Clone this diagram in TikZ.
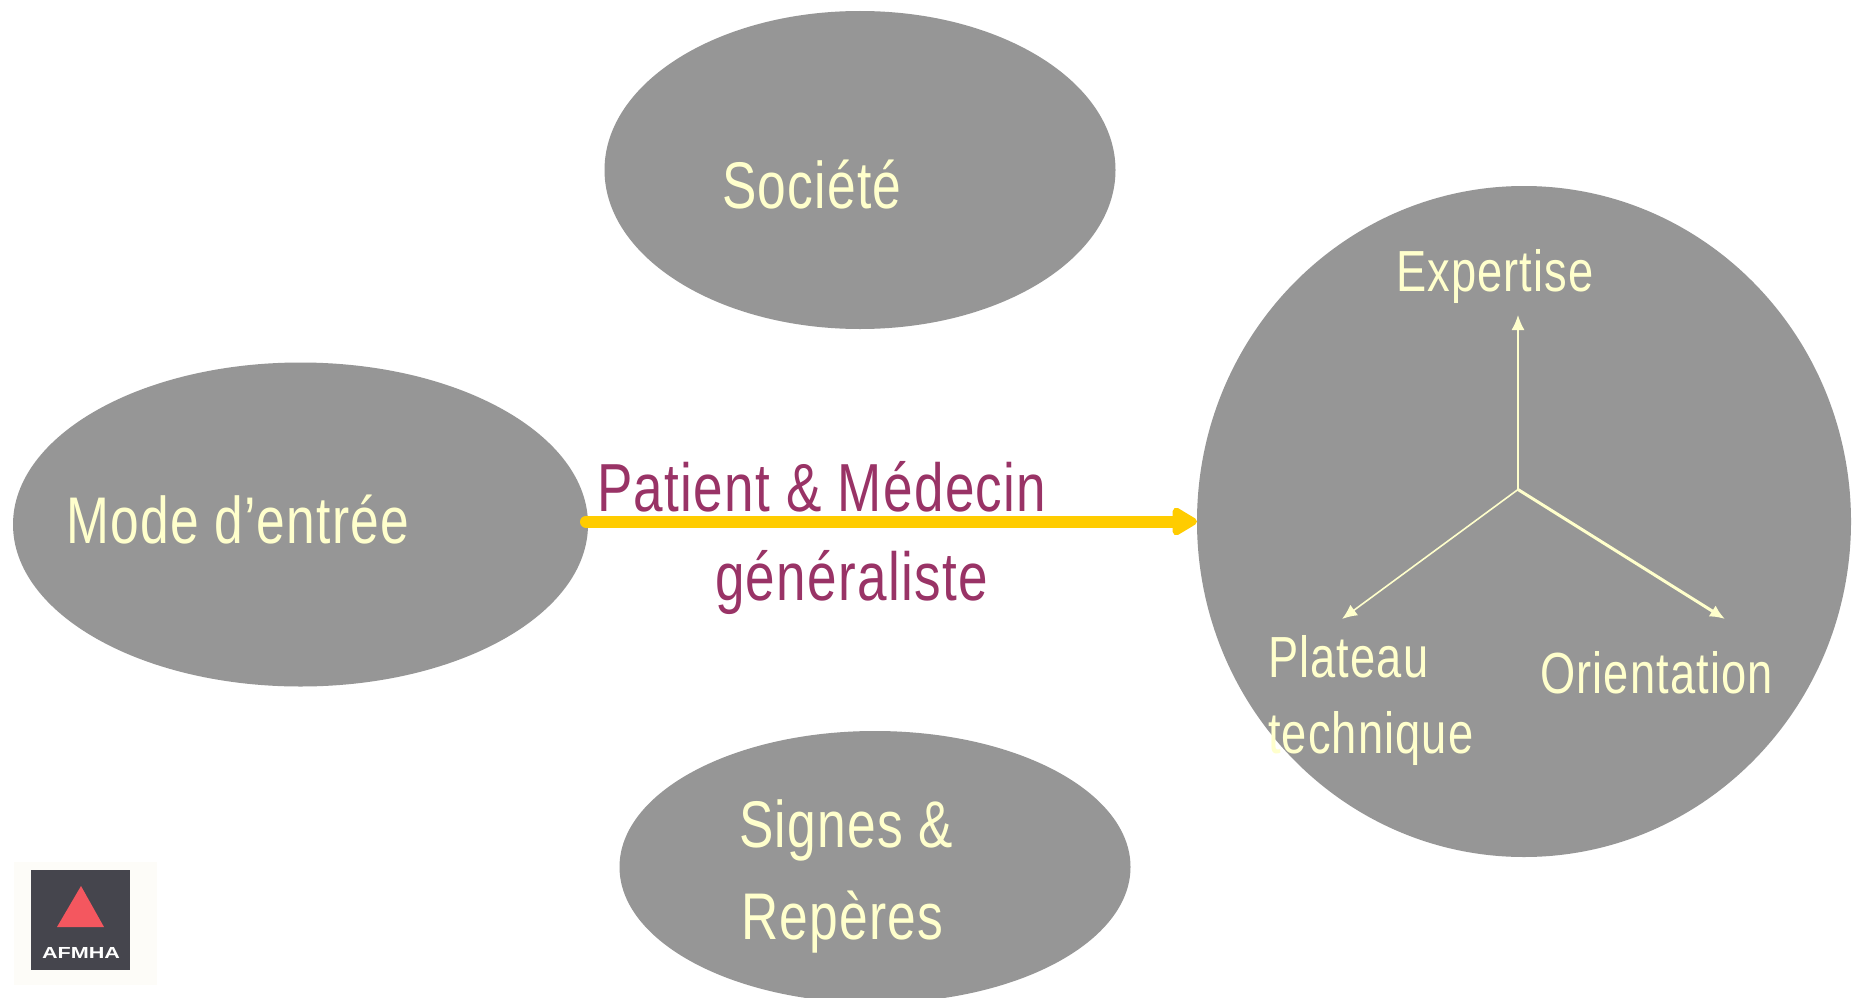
\documentclass[tikz,border=0pt]{standalone}
\usepackage{fontspec}
\setmainfont{Liberation Sans}
\newfontfamily\narrowfont[FakeStretch=0.78,LetterSpace=2]{Liberation Sans}
\newfontfamily\logofont[FakeStretch=1.35]{Liberation Sans}
\usetikzlibrary{arrows.meta}
\definecolor{blobgray}{HTML}{969696}
\definecolor{paleyellow}{HTML}{FFFFCC}
\definecolor{plum}{HTML}{993366}
\definecolor{gold}{HTML}{FFCC00}
\definecolor{logodark}{HTML}{45454D}
\definecolor{logored}{HTML}{F4575F}
\definecolor{logopaper}{HTML}{FDFCF8}
\tikzset{
  blob/.style={draw=none,fill=blobgray,ellipse,inner sep=0pt,outer sep=0pt},
  bigtext/.style={anchor=base west,inner sep=0pt,outer sep=0pt,text=paleyellow,font=\narrowfont\fontsize{66}{66}\selectfont},
  midtext/.style={anchor=base west,inner sep=0pt,outer sep=0pt,text=paleyellow,font=\narrowfont\fontsize{58}{58}\selectfont},
  plumtext/.style={anchor=base west,inner sep=0pt,outer sep=0pt,text=plum,font=\narrowfont\fontsize{68}{68}\selectfont},
  thinarrow/.style={draw=paleyellow,line width=1.6pt,-{Latex[length=15pt,width=13pt]}},
}
\usetikzlibrary{shapes.geometric}
\begin{document}
\begin{tikzpicture}[x=1pt,y=-1pt]
\useasboundingbox (0,0) rectangle (1863,998);
\clip (0,0) rectangle (1863,998);
\fill[white] (0,0) rectangle (1863,998);
% blobs
\fill[blobgray] (860,170) ellipse [x radius=255.5,y radius=159];
\fill[blobgray] (300.5,524.5) ellipse [x radius=287.5,y radius=162];
\fill[blobgray] (875,867) ellipse [x radius=255.5,y radius=136];
\fill[blobgray] (1524,521.5) ellipse [x radius=327,y radius=335.5];
% named coordinates
\coordinate (hub) at (1518,489.5);
\coordinate (tipE) at (1518,315);
\coordinate (tipP) at (1342,619);
\coordinate (tipO) at (1725,619);
\coordinate (gs) at (586,521.5);
\coordinate (ge) at (1197,521.5);
% arrows
\draw[thinarrow] (hub) -- (tipE);
\draw[thinarrow] (hub) -- (tipP);
\draw[thinarrow,line width=3pt] (hub) -- (tipO);
\draw[gold,line width=12pt,line cap=round,-{Triangle[length=28pt,width=31pt,round=false]}] (gs) -- (ge);
% texts
\node[bigtext] (societe) at (722,208) {Société};
\node[bigtext] (mode) at (66,543) {Mode d’entrée};
\node[bigtext] (signes) at (739,847) {Signes \&};
\node[bigtext] (reperes) at (741,939) {Repères};
\node[midtext] (expertise) at (1396,291) {Expertise};
\node[midtext] (plateau) at (1268,677) {Plateau};
\node[midtext] (technique) at (1268,753) {technique};
\node[midtext] (orientation) at (1540,693) {Orientation};
\node[plumtext] (patient) at (597,511) {Patient \& Médecin};
\node[plumtext] (generaliste) at (715,600) {généraliste};
% logo
\fill[logopaper] (14,862) rectangle (157,985);
\fill[logodark] (31,870) rectangle (130,970);
\fill[logored] (81,886) -- (104,927) -- (57,927) -- cycle;
\node[anchor=base,inner sep=0pt,text=white,font=\logofont\bfseries\fontsize{16}{16}\selectfont] (afmha) at (81,958) {AFMHA};
\end{tikzpicture}
\end{document}
